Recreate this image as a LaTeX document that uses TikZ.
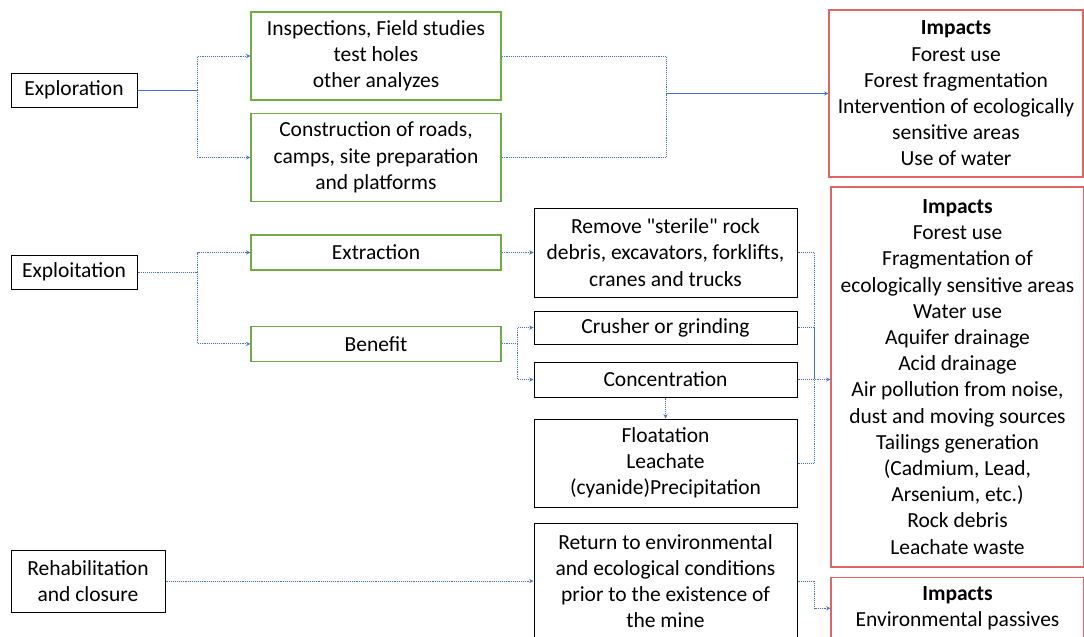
\documentclass[tikz,border=0pt]{standalone}
\usepackage{fontspec}
\setmainfont{Carlito}[Ligatures=TeXOff]
\usepackage{tikz}
\usetikzlibrary{positioning, arrows}
\definecolor{boxgreen}{RGB}{112,173,71}
\definecolor{boxred}{RGB}{224,102,102}
\definecolor{linkblue}{RGB}{68,114,196}
\tikzset{
>=stealth, % small filled arrow heads
every node/.style={font=\fontsize{21.5}{26.2}\selectfont, align=center, inner xsep=2pt, inner ysep=2pt}, % Calibri-like text everywhere
stage/.style={draw=black, line width=1pt, minimum width=126pt}, % the three phases on the left
activity/.style={draw=boxgreen, line width=1.4pt, minimum width=250pt}, % green boxes of the first column
task/.style={draw=black, line width=1pt, minimum width=263pt}, % black boxes of the second column
impact/.style={draw=boxred, line width=1.2pt, minimum width=253pt}, % red boxes on the right
link/.style={linkblue, densely dotted, line width=0.9pt}, % dotted connectors
trunk/.style={linkblue, line width=0.9pt}, % solid connectors
}

\begin{document}
\begin{tikzpicture}[x=1pt, y=-1pt]
            \useasboundingbox (0,0) rectangle (1084,637);

            % exploration
            \node[stage, minimum height=34pt] (expl) at (74,90) {Exploration};
            \node[activity, minimum height=88pt] (insp) at (376,56) {Inspections, Field studies\\test holes\\other analyzes};
            \node[activity, minimum height=88pt, below=12pt of insp] (cons) {Construction of roads,\\camps, site preparation\\and platforms};
            \node[impact, minimum width=254pt, minimum height=167pt] (imp1) at (956,93.5) {\textbf{Impacts}\\Forest use\\Forest fragmentation\\Intervention of ecologically\\sensitive areas\\Use of water};

            % exploitation
            \node[stage, minimum height=34pt] (explo) at (74,272) {Exploitation};
            \node[activity, minimum height=35pt] (extr) at (376,252.5) {Extraction};
            \node[activity, minimum height=35pt, below=55pt of extr] (bene) {Benefit};
            \node[task, minimum height=89pt] (remo) at (665.5,252.5) {Remove "sterile" rock\\debris, excavators, forklifts,\\cranes and trucks};
            \node[task, minimum height=33pt, below=13pt of remo] (crus) {Crusher or grinding};
            \node[task, minimum height=35pt, below=17pt of crus] (conc) {Concentration};
            \node[task, minimum height=88pt, below=21pt of conc] (floa) {Floatation\\Leachate\\(cyanide)Precipitation};
            \node[impact, minimum height=380pt] (imp2) at (957.5,377) {\textbf{Impacts}\\Forest use\\Fragmentation of\\ecologically sensitive areas\\Water use\\Aquifer drainage\\Acid drainage\\Air pollution from noise,\\dust and moving sources\\Tailings generation\\(Cadmium, Lead,\\Arsenium, etc.)\\Rock debris\\Leachate waste};

            % rehabilitation
            \node[stage, minimum width=154pt, minimum height=62pt] (rehab) at (88,581) {Rehabilitation\\and closure};
            \node[task, minimum height=116pt] (retu) at (665.5,581) {Return to environmental\\and ecological conditions\\prior to the existence of\\the mine};
            \node[impact, minimum height=62pt, below=9pt of imp2] (imp3) {\textbf{Impacts}\\Environmental passives};

            \coordinate (jimp1) at (666,93.5);
            \coordinate (jimp2) at (814,377.5);

            \draw[trunk] (expl.east) -- ++(60,0) coordinate (jexpl);
            \draw[link, ->] (jexpl) |- (insp.west);
            \draw[link, ->] (jexpl) |- (cons.west);
            \draw[link] (insp.east) -| (jimp1);
            \draw[link] (cons.east) -| (jimp1);
            \draw[trunk, ->] (jimp1) -- (imp1.west);

            \draw[link] (explo.east) -- ++(60,0) coordinate (jexplo);
            \draw[link, ->] (jexplo) |- (extr.west);
            \draw[link, ->] (jexplo) |- (bene.west);
            \draw[link, ->] (extr.east) -- (remo.west);
            \draw[link] (bene.east) -- ++(16,0) coordinate (jbene);
            \draw[link, ->] (jbene) |- (crus.west);
            \draw[link, ->] (jbene) |- (conc.west);
            \draw[link, ->] (conc.south) -- (floa.north);
            \draw[link] (remo.east) -| (jimp2);
            \draw[link] (crus.east) -| (jimp2);
            \draw[link] (floa.east) -| (jimp2);
            \draw[link, ->] (conc.east) -- (imp2.west |- conc.east);

            \draw[link, ->] (rehab.east) -- (rehab.east -| retu.west);
            \draw[link, ->] (retu.east) -- ++(17,0) |- (imp3.west);
        \end{tikzpicture}
\end{document}
